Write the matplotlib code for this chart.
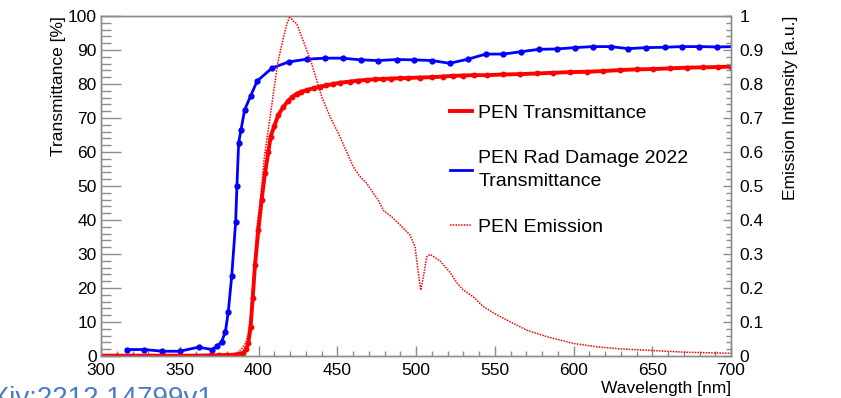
import matplotlib.pyplot as plt
from matplotlib.ticker import MultipleLocator

# PEN transmittance (red, %)
pen_wl = [300, 310, 320, 330, 340, 350, 360, 370, 375, 380, 385, 388, 390.4, 392, 393.5,
          395, 396.3, 397.8, 399.9, 402, 404.1, 406.2, 407.7, 410, 412.6, 415.8, 418.9,
          421.5, 424.2, 427, 430.6, 435, 439, 443, 447.5, 452, 458, 463, 468.7, 474,
          479.2, 484, 489.8, 495, 502.5, 510, 517, 523.7, 530, 537, 544.9, 555, 566, 577,
          587.2, 598, 608.4, 619, 629.5, 640, 650.7, 661, 671.9, 682, 692, 700]
pen_t = [0.1, 0.1, 0.1, 0.1, 0.1, 0.1, 0.1, 0.2, 0.2, 0.3, 0.4, 0.6, 0.8, 2.0, 3.7,
         8.6, 17.0, 26.8, 37.0, 46.0, 53.7, 59.9, 64.5, 67.6, 70.9, 73.3, 75.1,
         76.2, 77.1, 77.7, 78.2, 78.8, 79.2, 79.6, 80.0, 80.4, 80.7, 81.0, 81.2, 81.4,
         81.5, 81.6, 81.7, 81.8, 81.9, 82.0, 82.2, 82.4, 82.5, 82.6, 82.6, 82.8, 82.9, 83.1,
         83.3, 83.5, 83.6, 83.8, 84.1, 84.3, 84.4, 84.6, 84.8, 84.9, 85.0, 85.1]

# PEN Rad Damage 2022 transmittance (blue, %)
rad_wl = [316.3, 327.5, 339, 350, 362, 370.5, 373.6, 376.6, 379, 380.8, 383, 385.5,
          386.3, 387.4, 388.9, 391.2, 395, 399.2, 408.6, 419.2, 430.6, 442.2, 453.4,
          464.9, 476.1, 487.7, 498.9, 510, 521.4, 533, 544.3, 555.4, 566.7, 578, 589.3,
          600.7, 612.2, 623.6, 634.8, 646.3, 657.8, 668.6, 679.9, 691.3, 702.7]
rad_t = [1.9, 1.9, 1.4, 1.4, 2.6, 1.9, 2.9, 4.2, 7.2, 13.0, 23.5, 39.5,
         50.0, 62.7, 66.5, 72.4, 76.5, 80.9, 84.7, 86.5, 87.3, 87.6, 87.6,
         87.1, 86.9, 87.2, 87.1, 86.9, 86.1, 87.3, 88.8, 88.8, 89.5, 90.2, 90.3,
         90.7, 91.0, 91.0, 90.4, 90.7, 90.8, 91.0, 91.0, 90.9, 91.0]

# PEN emission (red dotted, a.u.)
em_wl = [380, 385, 388, 390, 392, 393.5, 395, 397.3, 399, 401.2, 403.7, 406, 408, 410,
         412.2, 415.4, 418.1, 420, 421.7, 424.2, 427.4, 430.6, 433.7, 436.9, 440.1,
         445.4, 451.7, 456, 460.2, 464, 468.7, 472, 476, 479.2, 485.6, 490, 493, 496.2,
         499.4, 501.5, 503, 504.7, 506.8, 508.9, 512, 515.2, 521.6, 526, 530, 536.4,
         542.8, 551.3, 559.7, 570.3, 583, 600, 614.9, 629.5, 650.7, 671.9, 690, 700]
em_i = [0.0, 0.005, 0.015, 0.025, 0.04, 0.067, 0.12, 0.263, 0.38, 0.459, 0.586, 0.66, 0.724, 0.79,
        0.861, 0.929, 0.978, 1.0, 0.986, 0.978, 0.939, 0.9, 0.861, 0.812, 0.763,
        0.704, 0.645, 0.6, 0.557, 0.53, 0.508, 0.485, 0.459, 0.429, 0.405, 0.385, 0.371, 0.356,
        0.321, 0.243, 0.194, 0.233, 0.292, 0.299, 0.29, 0.28, 0.246, 0.215, 0.194, 0.174,
        0.145, 0.121, 0.101, 0.076, 0.057, 0.037, 0.027, 0.021, 0.016, 0.011, 0.009, 0.008]

plt.rcParams['font.family'] = ['Liberation Sans', 'DejaVu Sans']
grey = '#8c8c8c'

fig = plt.figure(figsize=(8.41, 3.98), dpi=100)
ax = fig.add_axes([101 / 841, 1 - 356 / 398, 630 / 841, 340 / 398])
ax2 = ax.twinx()

l_rad, = ax.plot(rad_wl, rad_t, color='#0000ff', lw=2, marker='o', ms=3.5,
                 label='PEN Rad Damage 2022\nTransmittance')
l_pen, = ax.plot(pen_wl, pen_t, color='#ff0000', lw=2.8, marker='o', ms=3.2,
                 label='PEN Transmittance')
l_em, = ax2.plot(em_wl, em_i, color='#ff0000', lw=1.1, ls=(0, (1, 0.8)),
                 label='PEN Emission')

ax.set_xlim(300, 700)
ax.set_ylim(0, 100)
ax2.set_ylim(0, 1)

ax.xaxis.set_major_locator(MultipleLocator(50))
ax.xaxis.set_minor_locator(MultipleLocator(10))
ax.yaxis.set_major_locator(MultipleLocator(10))
ax.yaxis.set_minor_locator(MultipleLocator(2))
ax2.yaxis.set_minor_locator(MultipleLocator(0.02))
ax2.set_yticks([0, 0.1, 0.2, 0.3, 0.4, 0.5, 0.6, 0.7, 0.8, 0.9, 1.0])
ax2.set_yticklabels(['0', '0.1', '0.2', '0.3', '0.4', '0.5', '0.6', '0.7', '0.8', '0.9', '1'])

ax.tick_params(axis='x', which='major', direction='in', length=7.2, width=1, color=grey,
               labelsize=12.5, pad=5, top=False)
ax.tick_params(axis='x', which='minor', direction='in', length=3.6, width=1, color=grey, top=False)
ax.tick_params(axis='y', which='major', direction='in', length=14.4, width=1, color=grey,
               labelsize=12.5, pad=3, right=False)
ax.tick_params(axis='y', which='minor', direction='in', length=7.2, width=1, color=grey, right=False)
ax2.tick_params(axis='y', which='major', direction='in', length=6, width=1, color=grey,
                labelsize=12.5, pad=6)
ax2.tick_params(axis='y', which='minor', direction='in', length=3.8, width=1, color=grey)

for a in (ax, ax2):
    for s in a.spines.values():
        s.set_color(grey)
        s.set_linewidth(1)

ax.set_ylabel('Transmittance [%]', fontsize=12.5, loc='top', labelpad=1)
ax.set_xlabel('Wavelength [nm]', fontsize=12.5, loc='right', labelpad=2)
ax2.set_ylabel('Emission Intensity [a.u.]', fontsize=12.5, loc='top', labelpad=14)

leg = ax2.legend(handles=[l_pen, l_rad, l_em], loc='center left',
                 bbox_to_anchor=(0.554, 0.547), frameon=False, fontsize=14,
                 handlelength=1.15, handletextpad=0.3, labelspacing=1.45,
                 borderpad=0, borderaxespad=0)
for h in leg.legend_handles:
    h.set_marker('')
for t in leg.get_texts():
    t.set_linespacing(1.5)

fig.text(-33 / 841, 1 - 406 / 398, 'arXiv:2212.14799v1', color='#4a7cc4', fontsize=20,
         ha='left', va='baseline')

fig.savefig('out.png', dpi=100)
